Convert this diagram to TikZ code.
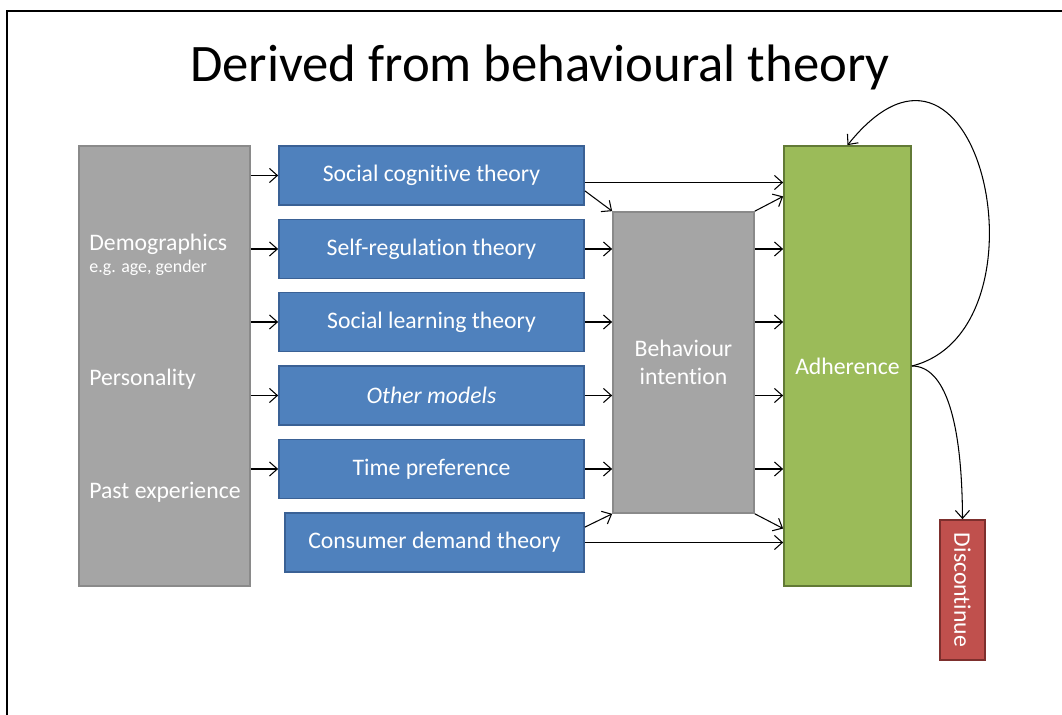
\documentclass[tikz,border=0pt]{standalone}
\usepackage{fontspec}
\setmainfont{Carlito}[Ligatures=NoCommon]
\usetikzlibrary{calc,arrows.meta}

\definecolor{theoryfill}{HTML}{4F81BD}
\definecolor{theoryedge}{HTML}{3A6195}
\definecolor{greyfill}{HTML}{A5A5A5}
\definecolor{greyedge}{HTML}{8A8A8A}
\definecolor{adherfill}{HTML}{9BBB59}
\definecolor{adheredge}{HTML}{627A36}
\definecolor{stopfill}{HTML}{C0504D}
\definecolor{stopedge}{HTML}{7D2F2D}

\tikzset{
    theorybox/.style={draw=theoryedge, fill=theoryfill, line width=1pt, text=white,
        minimum width=6.1cm, minimum height=1.18cm, inner sep=0pt,
        font=\fontsize{13.5}{16}\selectfont},
    greybox/.style={draw=greyedge, fill=greyfill, line width=1pt, text=white, inner sep=0pt,
        font=\fontsize{13.5}{16}\selectfont},
    sidetext/.style={text=white, inner sep=0pt, anchor=base west,
        font=\fontsize{13.5}{16}\selectfont},
    link/.style={-{Straight Barb[length=4.5pt,width=8pt]}, line width=0.6pt}
}

\begin{document}
\begin{tikzpicture}[x=0.02cm, y=-0.02cm]
        \useasboundingbox (0,0) rectangle (1062,715);
        \draw[line width=1.5pt] (7,715) -- (7,11) -- (1062,11);

        \node[anchor=base, font=\fontsize{30}{34}\selectfont] (title) at (540,82) {Derived from behavioural theory};

        \node[greybox, minimum width=3.42cm, minimum height=8.8cm] (factors) at (164.5,366) {};
        \node[sidetext] (demog) at (89,251) {Demographics};
        \node[sidetext, font=\fontsize{10.2}{12}\selectfont] (demogeg) at (89,273) {e.g. age, gender};
        \node[sidetext] (person) at (89,386) {Personality};
        \node[sidetext] (past) at (89,499) {Past experience};

        \node[theorybox] (sct) at (431.5,175.5) {Social cognitive theory};
        \node[theorybox] (srt) at (431.5,249) {Self-regulation theory};
        \node[theorybox] (slt) at (431.5,322) {Social learning theory};
        \node[theorybox] (other) at (431.5,395.5) {\itshape Other models};
        \node[theorybox] (timepref) at (431.5,469) {Time preference};
        \node[theorybox, minimum width=5.98cm] (cdt) at (434.5,542.5) {Consumer demand theory};

        \node[greybox, minimum width=2.82cm, minimum height=6.02cm, align=center] (intent) at (683.5,362.5) {Behaviour\\intention};
        \node[greybox, draw=adheredge, fill=adherfill, minimum width=2.54cm, minimum height=8.8cm] (adher) at (847.5,366) {Adherence};
        \node[greybox, draw=stopedge, fill=stopfill, minimum width=0.9cm, minimum height=2.8cm] (discont) at (962.5,590) {\rotatebox{-90}{Discontinue}};

        % background factors into the theories
        \draw[link] (factors.east |- sct.west) -- (sct.west);
        \draw[link] (factors.east |- srt.west) -- (srt.west);
        \draw[link] (factors.east |- slt.west) -- (slt.west);
        \draw[link] (factors.east |- other.west) -- (other.west);
        \draw[link] (factors.east |- timepref.west) -- (timepref.west);

        % theories into intention
        \draw[link] ($(sct.south east)+(0,-15)$) -- (intent.north west);
        \draw[link] (srt.east) -- (srt.east -| intent.west);
        \draw[link] (slt.east) -- (slt.east -| intent.west);
        \draw[link] (other.east) -- (other.east -| intent.west);
        \draw[link] (timepref.east) -- (timepref.east -| intent.west);
        \draw[link] ($(cdt.north east)+(0,15)$) -- (intent.south west);

        % straight on to adherence
        \draw[link] ($(sct.east)+(0,7)$) coordinate (sctout) -- (sctout -| adher.west);
        \draw[link] (cdt.east) -- (cdt.east -| adher.west);

        % intention into adherence
        \draw[link] (intent.north east) -- ($(adher.north west)!0.116!(adher.south west)$);
        \draw[link] (intent.east |- srt.east) -- (adher.west |- srt.east);
        \draw[link] (intent.east |- slt.east) -- (adher.west |- slt.east);
        \draw[link] (intent.east |- other.east) -- (adher.west |- other.east);
        \draw[link] (intent.east |- timepref.east) -- (adher.west |- timepref.east);
        \draw[link] (intent.south east) -- ($(adher.north west)!0.868!(adher.south west)$);

        % loop back and drop out
        \draw[link] (adher.east) .. controls (1055,330) and (980,-20) .. (adher.north);
        \draw[link] (adher.east) .. controls (945,366) and (962,420) .. (discont.north);
    \end{tikzpicture}
\end{document}
